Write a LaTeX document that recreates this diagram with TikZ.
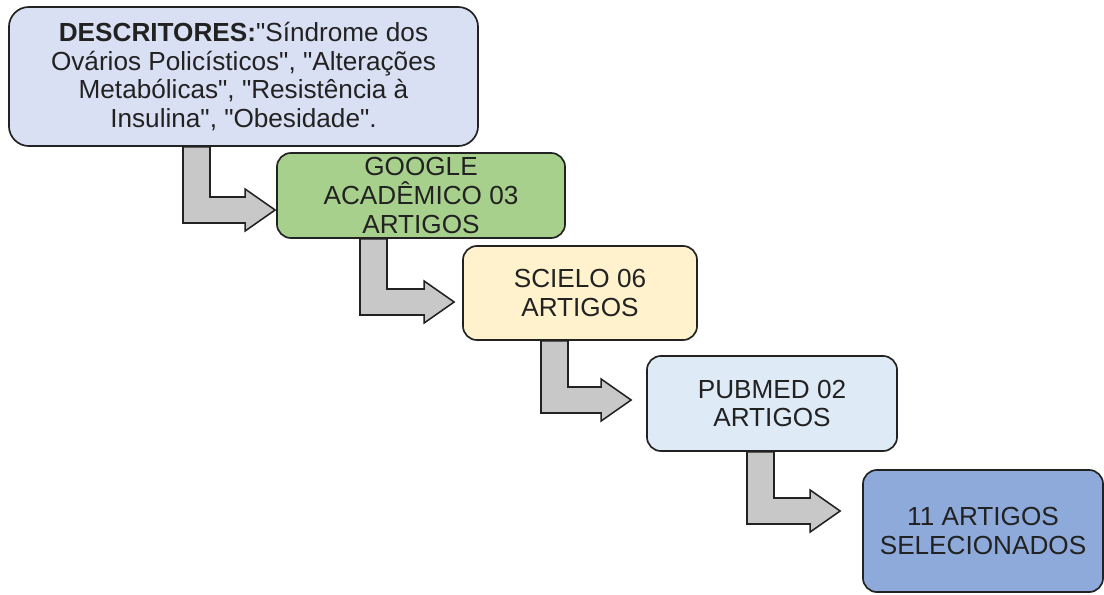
\documentclass[tikz,border=0pt]{standalone}
\usepackage{fontspec}
\setmainfont{Liberation Sans}[Ligatures=TeXOff]
\usepackage{tikz}
\usetikzlibrary{calc}
\definecolor{descfill}{HTML}{D9E0F3}
\definecolor{googlefill}{HTML}{A8D08D}
\definecolor{scielofill}{HTML}{FFF2CC}
\definecolor{pubmedfill}{HTML}{DEEAF6}
\definecolor{finalfill}{HTML}{8EAADB}
\definecolor{arrowgray}{HTML}{C8C8C8}
\definecolor{textgray}{HTML}{222222}
\def\arrstem{0.675cm}
\def\arrbar{0.325cm}
\def\arrhead{0.525cm}
\def\arrlen{0.75cm}
% bent arrow: #1 box above, #2 left side of the stem, #3 tip
\newcommand{\BentArrow}[3]{
    \draw[bentarrow] let \p1=(#1.south), \p2=(#2), \p3=(#3) in
        (\x2,\y1) -- (\x2,\y3-\arrbar) -- (\x3-\arrlen,\y3-\arrbar)
        -- (\x3-\arrlen,\y3-\arrhead) -- (\p3)
        -- (\x3-\arrlen,\y3+\arrhead) -- (\x3-\arrlen,\y3+\arrbar)
        -- (\x2+\arrstem,\y3+\arrbar) -- (\x2+\arrstem,\y1) -- cycle;
}
\tikzset{
    box/.style={draw=textgray, line width=1.2pt, rounded corners=0.35cm,
        align=center, inner sep=0pt, text=textgray,
        font=\fontsize{18.6}{20.3}\selectfont},
    bentarrow/.style={draw=textgray, line width=1.1pt, fill=arrowgray,
        line join=miter}
}

\begin{document}
\begin{tikzpicture}[x=0.025cm,y=-0.025cm]
  \useasboundingbox (0,0) rectangle (1104,594);

  \node[box, fill=descfill, rounded corners=0.5cm,
    minimum width=11.725cm, minimum height=3.475cm] (desc) at (243.5,76.5)
    {\textbf{DESCRITORES:}"Síndrome dos\\Ovários Policísticos", "Alterações\\
     Metabólicas", "Resistência à\\Insulina", "Obesidade".};

  \node[box, fill=googlefill,
    minimum width=7.2cm, minimum height=2.125cm] (google) at (421,195.5)
    {GOOGLE\\ACADÊMICO 03\\ARTIGOS};

  \node[box, fill=scielofill,
    minimum width=5.85cm, minimum height=2.35cm] (scielo) at (580,293)
    {SCIELO 06\\ARTIGOS};

  \node[box, fill=pubmedfill,
    minimum width=6.25cm, minimum height=2.375cm] (pubmed) at (772,403.5)
    {PUBMED 02\\ARTIGOS};

  \node[box, fill=finalfill,
    minimum width=6cm, minimum height=3.05cm] (final) at (983,531)
    {11 ARTIGOS\\SELECIONADOS};

  % arrows between the steps
  \coordinate (tip1) at ($(google.west)+(-1,14.5)$);
  \coordinate (tip2) at ($(scielo.west)+(-8,9)$);
  \coordinate (tip3) at ($(pubmed.west)+(-15,-3.5)$);
  \coordinate (tip4) at ($(final.west)+(-22,-20)$);

  \BentArrow{desc}{183,0}{tip1}
  \BentArrow{google}{360,0}{tip2}
  \BentArrow{scielo}{541,0}{tip3}
  \BentArrow{pubmed}{747,0}{tip4}

\end{tikzpicture}
\end{document}
